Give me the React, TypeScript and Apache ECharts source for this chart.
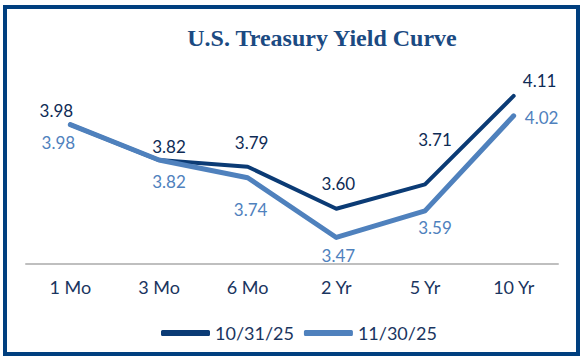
import React, { useEffect, useRef } from "react";
import * as echarts from "echarts";

const categories = ["1 Mo", "3 Mo", "6 Mo", "2 Yr", "5 Yr", "10 Yr"];
const seriesNames = ["10/31/25", "11/30/25"];
const octValues = [3.98, 3.82, 3.79, 3.6, 3.71, 4.11];
const novValues = [3.98, 3.82, 3.74, 3.47, 3.59, 4.02];
const titleText = "U.S. Treasury Yield Curve";

// label placement offsets (layout only)
const octLabelOffsets: [number, number][] = [
  [-14, -14], [10, -14], [4, -24], [2, -25], [10, -45], [26, -15],
];
const novLabelOffsets: [number, number][] = [
  [-12, 18], [10, 21], [3, 32], [2, 18], [10, 17], [28, 2],
];

const DARK = "#0B3B75";
const LIGHT = "#4F81BD";
const LABEL_DARK = "#0E2B55";
const FONT = "Lato";

export default function App() {
  const ref = useRef<HTMLDivElement>(null);
  useEffect(() => {
    document.body.style.margin = "0";
    const chart = echarts.init(ref.current!, null, { renderer: "svg" });
    const mk = (vals: number[], offs: [number, number][], color: string) =>
      vals.map((v, i) => ({
        value: v,
        label: { offset: offs[i] },
      }));
    chart.setOption({
      animation: false,
      backgroundColor: "#ffffff",
      grid: { left: 26, right: 25, top: 76, bottom: 96 },
      xAxis: {
        type: "category",
        data: categories,
        boundaryGap: true,
        axisLine: { lineStyle: { color: "#BFBFBF", width: 2 } },
        axisTick: { show: false },
        axisLabel: {
          color: "#1A3560",
          fontFamily: FONT,
          fontSize: 18,
          margin: 14,
        },
      },
      yAxis: {
        type: "value",
        min: 3.35,
        max: 4.2,
        show: false,
        splitLine: { show: false },
      },
      legend: {
        data: seriesNames,
        left: 156,
        top: 318,
        icon: "roundRect",
        itemWidth: 49,
        itemHeight: 6,
        itemGap: 10,
        textStyle: {
          color: "#1A3560",
          fontFamily: FONT,
          fontSize: 18,
          lineHeight: 20,
        },
      },
      graphic: [
        {
          type: "rect",
          shape: { x: 5, y: 7, width: 573, height: 347 },
          style: { fill: "none", stroke: "#003F7F", lineWidth: 4 },
          z: 100,
        },
        {
          type: "text",
          x: 322,
          y: 38,
          style: {
            text: titleText,
            textAlign: "center",
            textVerticalAlign: "middle",
            font: "bold 24px 'Liberation Serif', serif",
            fill: "#1B4A82",
          },
        },
      ],
      series: [
        {
          name: seriesNames[0],
          type: "line",
          data: mk(octValues, octLabelOffsets, DARK),
          symbol: "circle",
          symbolSize: 1,
          itemStyle: { color: DARK },
          lineStyle: { color: DARK, width: 4, cap: "round", join: "round" },
          label: {
            show: true,
            position: "inside",
            color: LABEL_DARK,
            fontFamily: FONT,
            fontSize: 17,
            formatter: (p: any) => Number(p.value).toFixed(2),
          },
          z: 2,
        },
        {
          name: seriesNames[1],
          type: "line",
          data: mk(novValues, novLabelOffsets, LIGHT),
          symbol: "circle",
          symbolSize: 1,
          itemStyle: { color: LIGHT },
          lineStyle: { color: LIGHT, width: 5, cap: "round", join: "round" },
          label: {
            show: true,
            position: "inside",
            color: LIGHT,
            fontFamily: FONT,
            fontSize: 17,
            formatter: (p: any) => Number(p.value).toFixed(2),
          },
          z: 3,
        },
      ],
    });
    return () => chart.dispose();
  }, []);
  return (
    <div
      ref={ref}
      style={{ width: 583, height: 360, position: "fixed", left: 0, top: 0 }}
    />
  );
}
